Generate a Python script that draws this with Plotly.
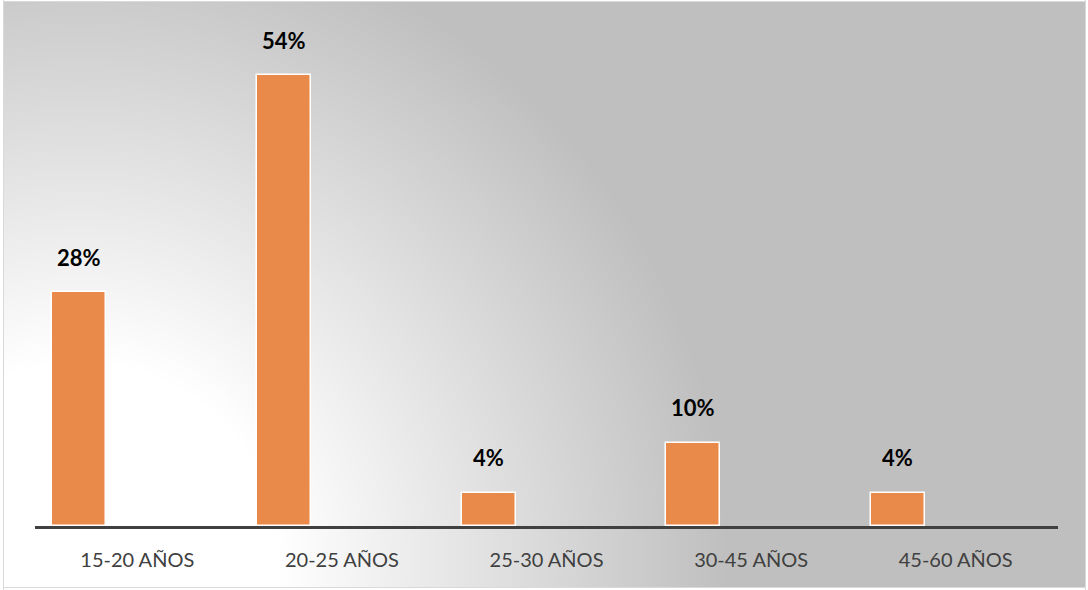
import base64
import struct
import zlib

import numpy as np
import plotly.graph_objects as go

# Age groups and share of respondents (%)
categories = ["15-20 AÑOS", "20-25 AÑOS", "25-30 AÑOS", "30-45 AÑOS", "45-60 AÑOS"]
values = [28, 54, 4, 10, 4]
labels = ["28%", "54%", "4%", "10%", "4%"]

W, H = 1088, 590
ML, MR, MT, MB = 35, 30, 25, 64
PW, PH = W - ML - MR, H - MT - MB


def gradient_png(w, h):
    """Radial grey gradient from the bottom-left corner, framed by a thin border."""
    yy, xx = np.mgrid[0:h, 0:w].astype(float)
    d = np.hypot(xx - 80, yy - 560)
    t = np.clip((d - 200) / 450.0, 0, 1)
    img = 255 - t * 64
    img = img.astype(np.uint8)
    # outer frame
    img[:, :3] = 255
    img[:, w - 2:] = 255
    img[h - 2:, :] = 255
    img[:1, :] = 255
    img[:, 3] = 217
    img[:, w - 3] = 217
    img[h - 3, 3:w - 2] = 217
    img[1, 3:w - 2] = 217
    raw = b"".join(b"\x00" + img[r].tobytes() for r in range(h))

    def chunk(tag, data):
        c = struct.pack(">I", len(data)) + tag + data
        return c + struct.pack(">I", zlib.crc32(tag + data) & 0xFFFFFFFF)

    png = b"\x89PNG\r\n\x1a\n"
    png += chunk(b"IHDR", struct.pack(">IIBBBBB", w, h, 8, 0, 0, 0, 0))
    png += chunk(b"IDAT", zlib.compress(raw, 9))
    png += chunk(b"IEND", b"")
    return "data:image/png;base64," + base64.b64encode(png).decode()


BAR_OFFSET = -0.415
BAR_WIDTH = 0.264

fig = go.Figure(
    go.Bar(
        x=categories,
        y=values,
        width=BAR_WIDTH,
        offset=BAR_OFFSET,
        marker=dict(color="#EA8A4A", line=dict(color="white", width=1.5)),
        hoverinfo="x+y",
    )
)

for i, (v, lab) in enumerate(zip(values, labels)):
    fig.add_annotation(
        x=i + BAR_OFFSET + BAR_WIDTH / 2,
        y=v,
        text=f"<b>{lab}</b>",
        showarrow=False,
        yanchor="middle",
        yshift=35,
        font=dict(family="Lato, Open Sans, sans-serif", size=22, color="#000000"),
    )

fig.add_layout_image(
    dict(
        source=gradient_png(W, H),
        xref="paper",
        yref="paper",
        x=-ML / PW,
        y=1 + MT / PH,
        sizex=W / PW,
        sizey=H / PH,
        xanchor="left",
        yanchor="top",
        sizing="stretch",
        layer="below",
    )
)

fig.update_layout(
    width=W,
    height=H,
    margin=dict(l=ML, r=MR, t=MT, b=MB),
    paper_bgcolor="white",
    plot_bgcolor="rgba(0,0,0,0)",
    showlegend=False,
    bargap=0,
    xaxis=dict(
        type="category",
        showline=True,
        linecolor="#404040",
        linewidth=3,
        showgrid=False,
        ticks="",
        ticklabelstandoff=14,
        tickfont=dict(family="Lato, Open Sans, sans-serif", size=20, color="#404040"),
        fixedrange=True,
    ),
    yaxis=dict(
        range=[0, 60],
        visible=False,
        showgrid=False,
        zeroline=False,
        fixedrange=True,
    ),
)

fig.write_html("out.html")
